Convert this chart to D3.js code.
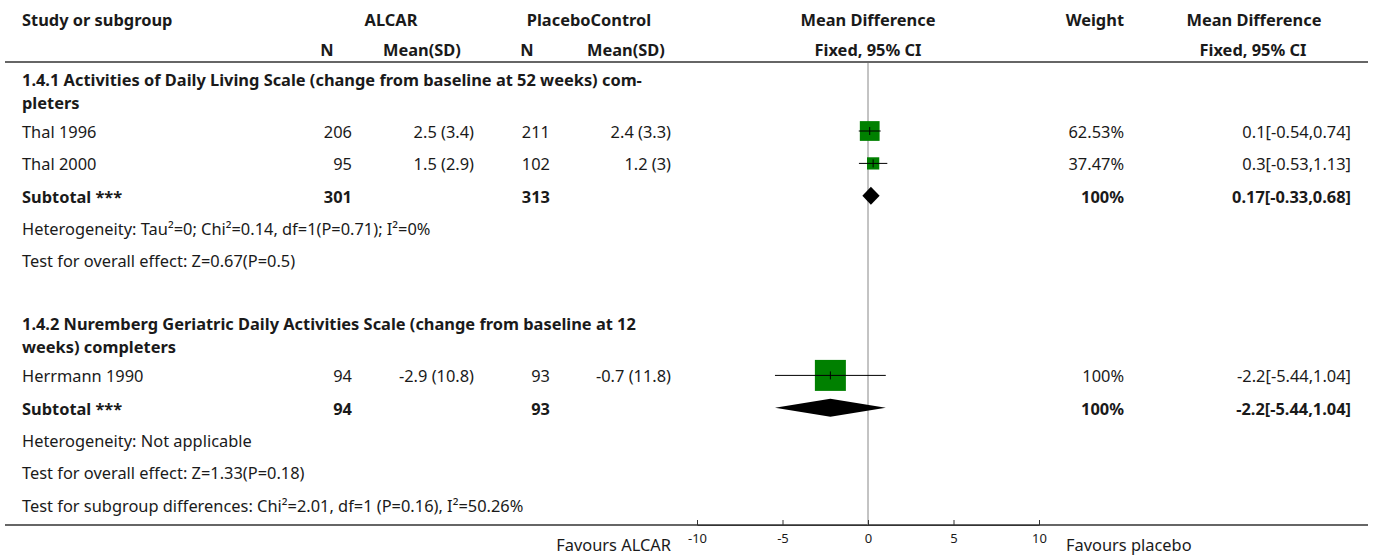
<!DOCTYPE html>
<html lang="en">
    <head>
        <meta charset="utf-8">
        <title>Forest plot</title>
        <script type="text/javascript" src="https://cdn.jsdelivr.net/npm/d3@7"></script>
        <style>
            body { margin: 0; background: #fff; }
            text { font-family: "Noto Sans", sans-serif; fill: #1a1a1a; }
        </style>
    </head>
    <body>
        <script type="text/javascript">

            //Width and height
            var w = 1375;
            var h = 557;
            var fontSize = 16.4;

            //Study rows
            var studyNames = ["Thal 1996", "Thal 2000", "Herrmann 1990"];
            var studyGroup = [0, 0, 1];
            var alcarN = [206, 95, 94];
            var alcarMeanSD = ["2.5 (3.4)", "1.5 (2.9)", "-2.9 (10.8)"];
            var placeboN = [211, 102, 93];
            var placeboMeanSD = ["2.4 (3.3)", "1.2 (3)", "-0.7 (11.8)"];
            var meanDiff = [0.1, 0.3, -2.2];
            var ciLower = [-0.54, -0.53, -5.44];
            var ciUpper = [0.74, 1.13, 1.04];
            var weights = [62.53, 37.47, 100];

            //Subgroups
            var groupTitles = [
                ["1.4.1 Activities of Daily Living Scale (change from baseline at 52 weeks) com-", "pleters"],
                ["1.4.2 Nuremberg Geriatric Daily Activities Scale (change from baseline at 12", "weeks) completers"]
            ];
            var subtotalAlcarN = [301, 94];
            var subtotalPlaceboN = [313, 93];
            var subtotalMD = [0.17, -2.2];
            var subtotalLower = [-0.33, -5.44];
            var subtotalUpper = [0.68, 1.04];
            var subtotalWeight = [100, 100];
            var heterogeneity = [
                "Heterogeneity: Tau\u00b2=0; Chi\u00b2=0.14, df=1(P=0.71); I\u00b2=0%",
                "Heterogeneity: Not applicable"
            ];
            var overallEffect = [
                "Test for overall effect: Z=0.67(P=0.5)",
                "Test for overall effect: Z=1.33(P=0.18)"
            ];
            var subgroupTest = "Test for subgroup differences: Chi\u00b2=2.01, df=1 (P=0.16), I\u00b2=50.26%";

            //Axis
            var axisTicks = [-10, -5, 0, 5, 10];
            var favoursLeft = "Favours ALCAR";
            var favoursRight = "Favours placebo";

            //Column positions
            var col = {
                study: 22,
                alcarN: 352, alcarMean: 474,
                placeboN: 550, placeboMean: 671,
                weight: 1124, ci: 1351
            };
            var tableTop = 63, tableBottom = 525;

            var xScale = d3.scaleLinear().domain([-10, 10]).range([697, 1039]);
            var boxScale = d3.scaleLinear().domain([0, 100]).range([1, 31]);

            var ciLabel = function(m, lo, hi) { return m + "[" + lo + "," + hi + "]"; };

            //Build the row list
            var rows = [];
            groupTitles.forEach(function(title, g) {
                rows.push({type: "title", lines: title});
                studyNames.forEach(function(name, i) {
                    if (studyGroup[i] !== g) return;
                    rows.push({type: "study", cells: [name, alcarN[i], alcarMeanSD[i], placeboN[i], placeboMeanSD[i], weights[i] + "%", ciLabel(meanDiff[i], ciLower[i], ciUpper[i])],
                        md: meanDiff[i], lo: ciLower[i], hi: ciUpper[i], weight: weights[i]});
                });
                rows.push({type: "subtotal", cells: ["Subtotal ***", subtotalAlcarN[g], "", subtotalPlaceboN[g], "", subtotalWeight[g] + "%", ciLabel(subtotalMD[g], subtotalLower[g], subtotalUpper[g])],
                    md: subtotalMD[g], lo: subtotalLower[g], hi: subtotalUpper[g]});
                rows.push({type: "note", text: heterogeneity[g]});
                rows.push({type: "note", text: overallEffect[g]});
                if (g < groupTitles.length - 1) rows.push({type: "blank"});
            });
            rows.push({type: "note", text: subgroupTest});

            //Row y positions
            var yPos = 82;
            rows.forEach(function(r) {
                r.y = yPos;
                yPos += r.type === "title" ? 50 : 32.4;
            });

            //Create SVG element
            var svg = d3.select("body")
                        .append("svg")
                        .attr("width", w)
                        .attr("height", h);

            //Header text
            var headers = [
                {t: "Study or subgroup", x: col.study, y: 20, a: "start"},
                {t: "ALCAR", x: 391, y: 20, a: "middle"},
                {t: "PlaceboControl", x: 589, y: 20, a: "middle"},
                {t: "Mean Difference", x: 868, y: 20, a: "middle"},
                {t: "Weight", x: 1124, y: 20, a: "end"},
                {t: "Mean Difference", x: 1254, y: 20, a: "middle"},
                {t: "N", x: 327, y: 50, a: "middle"},
                {t: "Mean(SD)", x: 422, y: 50, a: "middle"},
                {t: "N", x: 527, y: 50, a: "middle"},
                {t: "Mean(SD)", x: 626, y: 50, a: "middle"},
                {t: "Fixed, 95% CI", x: 868, y: 50, a: "middle"},
                {t: "Fixed, 95% CI", x: 1253, y: 50, a: "middle"}
            ];
            svg.append("g").selectAll("text")
                .data(headers)
                .enter()
                .append("text")
                .attr("x", function(d) { return d.x; })
                .attr("y", function(d) { return d.y; })
                .attr("dy", "0.35em")
                .attr("text-anchor", function(d) { return d.a; })
                .attr("font-size", fontSize)
                .attr("font-weight", "bold")
                .text(function(d) { return d.t; });

            //Header rule and bottom rule
            svg.append("line")
                .attr("x1", 5).attr("x2", 1368)
                .attr("y1", tableTop - 1).attr("y2", tableTop - 1)
                .attr("stroke", "#333").attr("stroke-width", 1.5);
            svg.append("line")
                .attr("x1", 5).attr("x2", 1368)
                .attr("y1", tableBottom).attr("y2", tableBottom)
                .attr("stroke", "#333").attr("stroke-width", 1.5);

            //Line of no effect
            svg.append("line")
                .attr("x1", xScale(0)).attr("x2", xScale(0))
                .attr("y1", tableTop).attr("y2", tableBottom)
                .attr("stroke", "#888").attr("stroke-width", 1);

            //Subgroup titles (two lines each)
            rows.filter(function(r) { return r.type === "title"; }).forEach(function(r) {
                r.lines.forEach(function(line, k) {
                    svg.append("text")
                        .attr("x", col.study)
                        .attr("y", r.y - 2 + k * 23)
                        .attr("dy", "0.35em")
                        .attr("font-size", fontSize)
                        .attr("font-weight", "bold")
                        .text(line);
                });
            });

            //Notes
            svg.append("g").selectAll("text")
                .data(rows.filter(function(r) { return r.type === "note"; }))
                .enter()
                .append("text")
                .attr("x", col.study)
                .attr("y", function(d) { return d.y; })
                .attr("dy", "0.35em")
                .attr("font-size", fontSize)
                .text(function(d) { return d.text; });

            //Study and subtotal cells
            var cellX = [col.study, col.alcarN, col.alcarMean, col.placeboN, col.placeboMean, col.weight, col.ci];
            var dataRows = rows.filter(function(r) { return r.type === "study" || r.type === "subtotal"; });
            dataRows.forEach(function(r) {
                svg.append("g").selectAll("text")
                    .data(r.cells)
                    .enter()
                    .append("text")
                    .attr("x", function(d, i) { return cellX[i]; })
                    .attr("y", r.y)
                    .attr("dy", "0.35em")
                    .attr("text-anchor", function(d, i) { return i === 0 ? "start" : "end"; })
                    .attr("font-size", fontSize)
                    .attr("font-weight", r.type === "subtotal" ? "bold" : "normal")
                    .text(function(d) { return d; });
            });

            //Study boxes, CI lines and point ticks
            var studyRows = rows.filter(function(r) { return r.type === "study"; });
            var marks = svg.append("g");
            marks.selectAll("rect")
                .data(studyRows)
                .enter()
                .append("rect")
                .attr("x", function(d) { return xScale(d.md) - boxScale(d.weight) / 2; })
                .attr("y", function(d) { return d.y - 1 - boxScale(d.weight) / 2; })
                .attr("width", function(d) { return boxScale(d.weight); })
                .attr("height", function(d) { return boxScale(d.weight); })
                .attr("fill", "#008000");
            marks.selectAll("line.ci")
                .data(studyRows)
                .enter()
                .append("line")
                .attr("class", "ci")
                .attr("x1", function(d) { return xScale(d.lo); })
                .attr("x2", function(d) { return xScale(d.hi); })
                .attr("y1", function(d) { return d.y - 1; })
                .attr("y2", function(d) { return d.y - 1; })
                .attr("stroke", "#000").attr("stroke-width", 1);
            marks.selectAll("line.pt")
                .data(studyRows)
                .enter()
                .append("line")
                .attr("class", "pt")
                .attr("x1", function(d) { return xScale(d.md); })
                .attr("x2", function(d) { return xScale(d.md); })
                .attr("y1", function(d) { return d.y - 5; })
                .attr("y2", function(d) { return d.y + 3; })
                .attr("stroke", "#000").attr("stroke-width", 1);

            //Subtotal diamonds
            marks.selectAll("path")
                .data(rows.filter(function(r) { return r.type === "subtotal"; }))
                .enter()
                .append("path")
                .attr("d", function(d) {
                    var c = d.y - 1;
                    return "M" + xScale(d.lo) + "," + c +
                           "L" + xScale(d.md) + "," + (c - 9) +
                           "L" + xScale(d.hi) + "," + c +
                           "L" + xScale(d.md) + "," + (c + 9) + "Z";
                })
                .attr("fill", "#000");

            //Axis
            var axis = d3.axisBottom(xScale)
                        .tickValues(axisTicks)
                        .tickSizeInner(-5)
                        .tickSizeOuter(0)
                        .tickPadding(9)
                        .tickFormat(function(d) { return String(d); });
            var gAxis = svg.append("g")
                        .attr("transform", "translate(0," + tableBottom + ")")
                        .call(axis);
            gAxis.select(".domain").attr("stroke", "#333");
            gAxis.selectAll(".tick line").attr("stroke", "#333");
            gAxis.selectAll(".tick text")
                .attr("font-family", "Noto Sans")
                .attr("font-size", 13)
                .attr("fill", "#1a1a1a");

            //Favours labels
            svg.append("text")
                .attr("x", 671).attr("y", 545)
                .attr("dy", "0.35em")
                .attr("text-anchor", "end")
                .attr("font-size", fontSize)
                .text(favoursLeft);
            svg.append("text")
                .attr("x", 1066).attr("y", 545)
                .attr("dy", "0.35em")
                .attr("font-size", fontSize)
                .text(favoursRight);

        </script>
    </body>
</html>
